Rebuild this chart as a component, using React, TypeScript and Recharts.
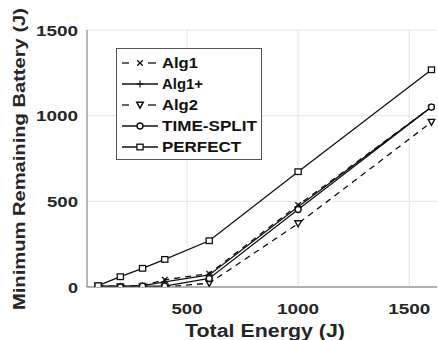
import React from "react";
import { LineChart, Line, XAxis, YAxis, CartesianGrid, Label } from "recharts";

const energy = [100, 200, 300, 400, 600, 1000, 1600];
const alg1 = [5, 5, 8, 42, 78, 478, 1050];
const alg1Plus = [5, 5, 8, 30, 70, 468, 1050];
const alg2 = [5, 0, 0, 0, 22, 370, 962];
const timeSplit = [5, 0, 5, 5, 50, 452, 1050];
const perfect = [8, 60, 109, 161, 270, 673, 1268];

const xTicks = [500, 1000, 1500];
const yTicks = [0, 500, 1000, 1500];

const seriesNames = ["Alg1", "Alg1+", "Alg2", "TIME-SPLIT", "PERFECT"];
const seriesKeys = ["alg1", "alg1Plus", "alg2", "timeSplit", "perfect"];
const seriesMarkers = ["x", "plus", "tri", "circle", "square"];
const seriesDashed = [true, false, true, false, false];

const data = energy.map((e, i) => ({
  energy: e,
  alg1: alg1[i],
  alg1Plus: alg1Plus[i],
  alg2: alg2[i],
  timeSplit: timeSplit[i],
  perfect: perfect[i],
}));

const INK = "#111";
const FONT = "'Liberation Sans', Arial, sans-serif";

function Marker({ cx, cy, kind }: { cx: number; cy: number; kind: string }) {
  const r = 2.8;
  if (kind === "x")
    return (
      <g stroke={INK} strokeWidth={1.3}>
        <line x1={cx - r} y1={cy - r} x2={cx + r} y2={cy + r} />
        <line x1={cx - r} y1={cy + r} x2={cx + r} y2={cy - r} />
      </g>
    );
  if (kind === "plus")
    return (
      <g stroke={INK} strokeWidth={1.2}>
        <line x1={cx - 3.5} y1={cy} x2={cx + 3.5} y2={cy} />
        <line x1={cx} y1={cy - 3.5} x2={cx} y2={cy + 3.5} />
      </g>
    );
  if (kind === "tri")
    return (
      <polygon
        points={`${cx - 3.3},${cy - 2.8} ${cx + 3.3},${cy - 2.8} ${cx},${cy + 3.2}`}
        fill="white"
        stroke={INK}
        strokeWidth={1.4}
      />
    );
  if (kind === "circle")
    return <circle cx={cx} cy={cy} r={3} fill="white" stroke={INK} strokeWidth={1.4} />;
  return (
    <rect x={cx - 3.1} y={cy - 2.8} width={6.2} height={5.6} fill="white" stroke={INK} strokeWidth={1.3} />
  );
}

const makeDot = (kind: string) => (props: any) => {
  const { cx, cy, index } = props;
  if (cx == null || cy == null) return <g key={index} />;
  return (
    <g key={`${kind}-${index}`}>
      <Marker cx={cx} cy={cy} kind={kind} />
    </g>
  );
};

const tickWidths: Record<string, number> = { "0": 10, "500": 31, "1000": 42, "1500": 42 };

const XTick = (props: any) => {
  const { x, y, payload } = props;
  const s = String(payload.value);
  return (
    <text
      x={x}
      y={y + 19}
      textAnchor="middle"
      fontFamily={FONT}
      fontWeight="bold"
      fontSize={15}
      fill="#262626"
      textLength={tickWidths[s]}
      lengthAdjust="spacingAndGlyphs"
    >
      {s}
    </text>
  );
};

const YTick = (props: any) => {
  const { x, y, payload } = props;
  const s = String(payload.value);
  return (
    <text
      x={x - 1}
      y={y + 5.5}
      textAnchor="end"
      fontFamily={FONT}
      fontWeight="bold"
      fontSize={15}
      fill="#262626"
      textLength={tickWidths[s]}
      lengthAdjust="spacingAndGlyphs"
    >
      {s}
    </text>
  );
};

const legendTextWidths = [36, 41, 36, 95, 79];

const LegendBox = () => (
  <svg width={147} height={113} style={{ display: "block" }}>
    <rect x={0.5} y={0.5} width={145} height={111} fill="white" stroke="#555" strokeWidth={1} />
    {seriesNames.map((name, i) => {
      const cy = 15 + i * 21;
      return (
        <g key={name}>
          {seriesDashed[i] ? (
            <g stroke={INK} strokeWidth={1.3}>
              <line x1={6} y1={cy} x2={13} y2={cy} />
              <line x1={32} y1={cy} x2={40} y2={cy} />
            </g>
          ) : (
            <line x1={6} y1={cy} x2={42} y2={cy} stroke={INK} strokeWidth={1.3} />
          )}
          <Marker cx={24} cy={cy} kind={seriesMarkers[i]} />
          <text
            x={46}
            y={cy + 5}
            fontFamily={FONT}
            fontWeight="bold"
            fontSize={14}
            fill="#111"
            textLength={legendTextWidths[i]}
            lengthAdjust="spacingAndGlyphs"
          >
            {name}
          </text>
        </g>
      );
    })}
  </svg>
);

export default function App() {
  return (
    <div style={{ position: "absolute", left: 0, top: 0, width: 438, height: 340, background: "white" }}>
      <LineChart
        width={438}
        height={340}
        data={data}
        margin={{ top: 30, right: 1, bottom: 0, left: 0 }}
      >
        <CartesianGrid stroke="#e3e3e3" strokeWidth={1} horizontalValues={yTicks} verticalValues={xTicks} />
        <XAxis
          dataKey="energy"
          type="number"
          domain={[50, 1625]}
          ticks={xTicks}
          height={53}
          axisLine={{ stroke: "#707070", strokeWidth: 1 }}
          tickLine={false}
          tick={<XTick />}
          allowDataOverflow
        >
          <Label
            content={() => (
              <text
                x={265}
                y={337}
                textAnchor="middle"
                fontFamily={FONT}
                fontWeight="bold"
                fontSize={18}
                fill="#262626"
                textLength={160}
                lengthAdjust="spacingAndGlyphs"
              >
                Total Energy (J)
              </text>
            )}
          />
        </XAxis>
        <YAxis
          type="number"
          domain={[0, 1500]}
          ticks={yTicks}
          width={87}
          axisLine={{ stroke: "#707070", strokeWidth: 1 }}
          tickLine={false}
          tick={<YTick />}
          allowDataOverflow
        >
          <Label
            content={() => (
              <text
                x={25}
                y={159}
                transform="rotate(-90 25 159)"
                textAnchor="middle"
                fontFamily={FONT}
                fontWeight="bold"
                fontSize={17}
                fill="#262626"
                textLength={302}
                lengthAdjust="spacingAndGlyphs"
              >
                Minimum Remaining Battery (J)
              </text>
            )}
          />
        </YAxis>
        {seriesKeys.map((k, i) => (
          <Line
            key={k}
            dataKey={k}
            name={seriesNames[i]}
            stroke={INK}
            strokeWidth={1.3}
            strokeDasharray={seriesDashed[i] ? "6 5" : undefined}
            dot={makeDot(seriesMarkers[i])}
            activeDot={false}
            isAnimationActive={false}
          />
        ))}
      </LineChart>
      <div style={{ position: "absolute", left: 116, top: 48 }}>
        <LegendBox />
      </div>
    </div>
  );
}
